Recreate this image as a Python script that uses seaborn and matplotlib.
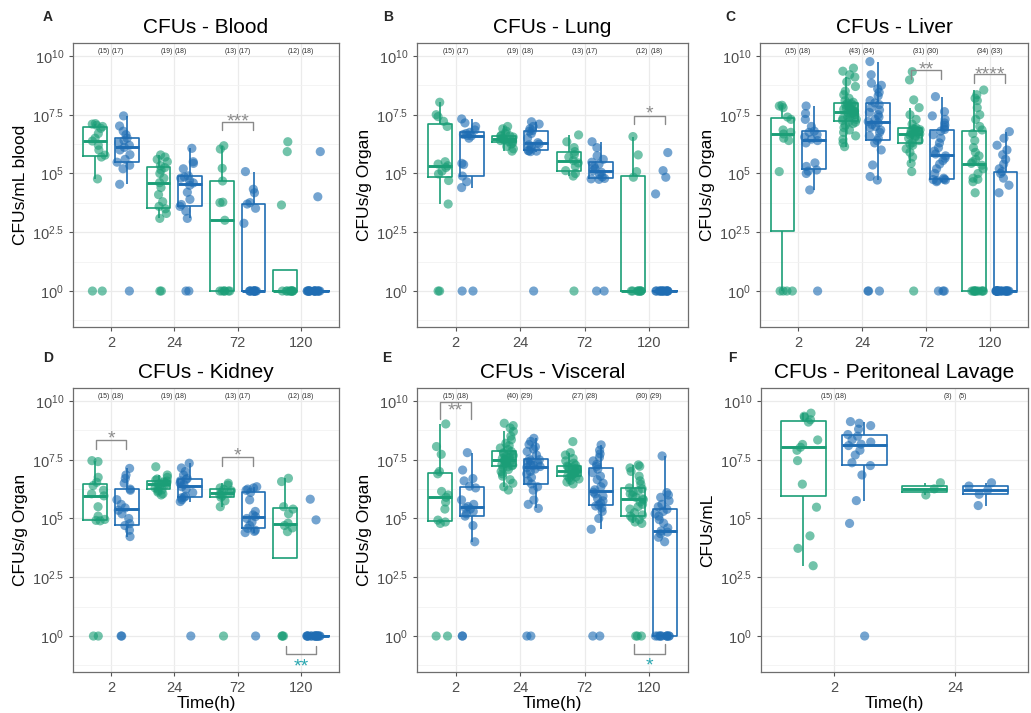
import numpy as np
import pandas as pd
import matplotlib
matplotlib.use("Agg")
import matplotlib.pyplot as plt
import seaborn as sns

# ---------------- data (log10 CFU values) ----------------
times4 = ["2", "24", "72", "120"]
times2 = ["2", "24"]
groups = ["Group 1", "Group 2"]
palette = ["#1b9e77", "#1f6db3"]

blood_g1 = [
    [0, 0, 4.77, 5.7, 5.78, 6.0, 6.2, 6.38, 6.5, 6.7, 6.92, 7.0, 7.05, 7.1, 7.12],
    [0, 0, 3.09, 3.3, 3.5, 3.6, 3.8, 4.1, 4.4, 4.61, 4.8, 5.0, 5.15, 5.25, 5.33, 5.5, 5.6, 5.7, 5.79],
    [0, 0, 0, 0, 0, 0, 3.01, 3.76, 3.78, 4.68, 5.22, 6.04, 6.18],
    [0, 0, 0, 0, 0, 0, 0, 0, 0, 3.66, 5.93, 6.35],
]
blood_g2 = [
    [0, 4.54, 5.2, 5.35, 5.48, 5.6, 5.8, 6.0, 6.11, 6.2, 6.3, 6.4, 6.5, 6.65, 6.8, 7.02, 7.45],
    [0, 0, 3.09, 3.4, 3.6, 3.68, 3.9, 4.2, 4.5, 4.6, 4.7, 4.8, 4.85, 4.9, 5.2, 5.43, 5.5, 6.07],
    [0, 0, 0, 0, 0, 0, 0, 0, 0, 0, 2.88, 3.52, 3.70, 3.76, 4.18, 4.33, 5.08],
    [0, 0, 0, 0, 0, 0, 0, 0, 0, 0, 0, 0, 0, 0, 0, 0, 4.01, 5.93],
]
lung_g1 = [
    [0, 0, 3.70, 4.7, 4.98, 5.1, 5.25, 5.33, 5.4, 5.5, 7.0, 7.22, 7.42, 7.5, 8.03],
    [5.95, 6.05, 6.15, 6.25, 6.3, 6.36, 6.38, 6.4, 6.42, 6.45, 6.5, 6.55, 6.58, 6.6, 6.62, 6.7, 6.8, 6.9, 7.0],
    [0, 4.89, 5.0, 5.12, 5.3, 5.45, 5.55, 5.7, 5.8, 5.93, 6.1, 6.35, 6.64],
    [0, 0, 0, 0, 0, 0, 0, 0, 4.84, 5.08, 5.79, 6.57],
]
lung_g2 = [
    [0, 0, 4.40, 4.65, 4.89, 5.38, 5.43, 6.5, 6.6, 6.62, 6.66, 6.7, 6.75, 6.85, 7.0, 7.15, 7.32],
    [0, 5.93, 5.95, 5.97, 5.97, 6.05, 6.15, 6.22, 6.25, 6.31, 6.5, 6.7, 6.8, 6.83, 6.9, 7.0, 7.1, 7.2],
    [0, 0, 4.75, 4.77, 4.79, 4.85, 4.95, 5.05, 5.12, 5.2, 5.3, 5.4, 5.48, 5.6, 5.75, 6.1, 6.35],
    [0, 0, 0, 0, 0, 0, 0, 0, 0, 0, 0, 0, 0, 0, 4.13, 4.84, 5.12, 5.89],
]
liver_g1 = [
    [0, 0, 0, 0, 5.08, 6.4, 6.5, 6.68, 6.75, 6.85, 7.3, 7.4, 7.8, 7.87, 7.9],
    [6.14, 6.3, 6.45, 6.6, 6.75, 6.85, 6.95, 7.05, 7.12, 7.18, 7.2, 7.26, 7.3, 7.35, 7.4,
     7.45, 7.5, 7.52, 7.55, 7.58, 7.6, 7.63, 7.66, 7.7, 7.73, 7.76, 7.8, 7.84, 7.88, 7.92,
     7.96, 7.99, 8.03, 8.1, 8.2, 8.35, 8.5, 8.7, 8.9, 9.1, 9.2, 9.35, 9.48],
    [0, 5.08, 5.43, 5.7, 5.9, 6.05, 6.2, 6.25, 6.31, 6.4, 6.5, 6.55, 6.6, 6.63, 6.66, 6.68,
     6.72, 6.76, 6.8, 6.83, 6.86, 6.88, 6.9, 6.94, 7.1, 7.3, 7.5, 7.8, 8.13, 8.98, 9.33],
    [0, 0, 0, 0, 0, 0, 0, 0, 0, 0, 4.18, 4.65, 4.75, 4.8, 5.0, 5.2, 5.35, 5.43, 5.5, 5.6,
     5.75, 5.9, 6.1, 6.4, 6.7, 6.85, 7.0, 7.3, 7.5, 7.8, 8.1, 8.2, 8.35, 8.55],
]
liver_g2 = [
    [0, 4.30, 5.0, 5.1, 5.15, 5.3, 5.45, 6.3, 6.4, 6.46, 6.55, 6.65, 6.75, 6.8, 7.0, 7.3, 7.55, 7.87],
    [0, 0, 0, 4.72, 4.87, 5.36, 6.0, 6.3, 6.4, 6.5, 6.6, 6.75, 6.85, 6.95, 7.0, 7.08, 7.15,
     7.21, 7.3, 7.4, 7.5, 7.6, 7.7, 7.8, 7.93, 8.0, 8.1, 8.3, 8.45, 8.6, 8.75, 8.84, 9.2, 9.76],
    [0, 0, 0, 4.65, 4.7, 4.72, 4.74, 4.75, 4.8, 5.0, 5.2, 5.4, 5.55, 5.65, 5.75, 5.83, 5.95,
     6.1, 6.3, 6.5, 6.65, 6.8, 6.87, 6.95, 7.05, 7.15, 7.3, 7.45, 7.63, 8.27],
    [0, 0, 0, 0, 0, 0, 0, 0, 0, 0, 0, 0, 0, 0, 0, 0, 0, 0, 0, 0,
     4.18, 4.5, 4.8, 5.0, 5.08, 5.2, 5.4, 5.6, 5.8, 6.0, 6.2, 6.5, 6.78],
]
kidney_g1 = [
    [0, 0, 4.9, 4.92, 4.96, 5.1, 5.5, 5.96, 6.05, 6.2, 6.4, 6.54, 6.75, 7.42, 7.46],
    [6.0, 6.05, 6.12, 6.18, 6.22, 6.26, 6.3, 6.38, 6.43, 6.47, 6.5, 6.53, 6.56, 6.59, 6.63, 6.68, 6.75, 6.85, 7.2],
    [0, 5.5, 5.75, 5.9, 5.97, 6.02, 6.07, 6.12, 6.18, 6.24, 6.3, 6.42, 6.5],
    [0, 0, 0, 4.44, 4.6, 4.7, 4.8, 5.2, 5.4, 5.5, 6.57, 6.71],
]
kidney_g2 = [
    [0, 0, 4.23, 4.5, 4.7, 4.78, 5.0, 5.2, 5.35, 5.45, 5.6, 5.8, 6.2, 6.25, 6.5, 6.7, 6.85, 7.13],
    [0, 5.72, 5.8, 5.88, 5.9, 5.95, 6.1, 6.25, 6.35, 6.45, 6.5, 6.6, 6.66, 6.7, 6.85, 7.0, 7.15, 7.35],
    [0, 4.40, 4.45, 4.5, 4.58, 4.7, 4.85, 5.0, 5.08, 5.15, 5.3, 5.79, 6.11, 6.2, 6.25, 6.3, 6.35],
    [0, 0, 0, 0, 0, 0, 0, 0, 0, 0, 0, 0, 0, 0, 0, 0, 4.94, 5.82],
]
visceral_g1 = [
    [0, 0, 4.79, 4.85, 4.93, 5.4, 5.7, 5.9, 6.0, 6.15, 6.9, 7.0, 7.73, 8.06, 9.02],
    [6.21, 6.35, 6.5, 6.65, 6.8, 6.9, 7.0, 7.08, 7.15, 7.2, 7.24, 7.27, 7.3, 7.33, 7.36, 7.39,
     7.42, 7.44, 7.46, 7.48, 7.5, 7.53, 7.56, 7.6, 7.64, 7.68, 7.72, 7.76, 7.8, 7.85, 7.93,
     8.0, 8.1, 8.2, 8.35, 8.5, 8.7, 8.85, 8.95, 9.05],
    [6.47, 6.55, 6.62, 6.68, 6.73, 6.77, 6.80, 6.82, 6.86, 6.9, 6.94, 6.98, 7.01, 7.04, 7.07,
     7.1, 7.13, 7.17, 7.2, 7.23, 7.27, 7.35, 7.45, 7.55, 7.7, 7.8, 8.27],
    [0, 0, 0, 4.79, 4.85, 4.95, 5.02, 5.1, 5.15, 5.25, 5.4, 5.5, 5.6, 5.7, 5.8, 5.84, 5.9,
     5.98, 6.05, 6.12, 6.18, 6.26, 6.3, 6.45, 6.6, 6.8, 7.0, 7.15, 7.22, 7.28],
]
visceral_g2 = [
    [0, 0, 4.01, 4.7, 5.1, 5.2, 5.3, 5.4, 5.45, 5.51, 5.6, 5.79, 6.3, 6.37, 6.6, 6.7, 7.06, 7.8],
    [0, 0, 5.43, 5.6, 5.79, 6.2, 6.35, 6.47, 6.6, 6.75, 6.9, 7.0, 7.1, 7.17, 7.21, 7.25, 7.3,
     7.35, 7.4, 7.45, 7.5, 7.53, 7.7, 7.85, 7.95, 8.05, 8.15, 8.28, 8.41],
    [0, 0, 4.54, 5.0, 5.3, 5.45, 5.53, 5.58, 5.65, 5.75, 5.85, 5.95, 6.05, 6.12, 6.22, 6.35,
     6.5, 6.65, 6.8, 6.95, 7.1, 7.22, 7.3, 7.45, 7.6, 7.75, 7.9, 8.13],
    [0, 0, 0, 0, 0, 0, 0, 0, 0, 0, 4.01, 4.2, 4.35, 4.42, 4.47, 4.6, 4.8, 4.95, 5.1, 5.2,
     5.3, 5.39, 5.5, 5.6, 5.75, 5.9, 6.0, 6.1, 7.66],
]
lavage_g1 = [
    [2.99, 3.73, 4.26, 5.48, 6.46, 7.46, 7.9, 8.03, 8.15, 8.34, 9.1, 9.2, 9.3, 9.35, 9.48],
    [6.0, 6.26, 6.52],
]
lavage_g2 = [
    [0, 4.79, 5.76, 6.85, 7.25, 7.37, 7.7, 7.9, 8.1, 8.16, 8.25, 8.35, 8.5, 8.57, 8.8, 8.95, 9.05, 9.12],
    [5.55, 6.03, 6.21, 6.38, 6.52],
]

ytick_vals = [0, 2.5, 5, 7.5, 10]
ytick_labels = [r"$\mathregular{10^{0}}$", r"$\mathregular{10^{2.5}}$", r"$\mathregular{10^{5}}$",
                r"$\mathregular{10^{7.5}}$", r"$\mathregular{10^{10}}$"]

# ---------------- style ----------------
sns.set_theme(style="white")
plt.rcParams["font.family"] = ["Liberation Sans", "DejaVu Sans"]
plt.rcParams["mathtext.fontset"] = "custom"
plt.rcParams["mathtext.rm"] = "Liberation Sans"
plt.rcParams["mathtext.it"] = "Liberation Sans:italic"
plt.rcParams["mathtext.bf"] = "Liberation Sans:bold"

W, H = 1031, 713
fig = plt.figure(figsize=(W / 100, H / 100), dpi=100)
np.random.seed(7)

# panel layout in pixels: (left, top, right, bottom), letter position
panels = [
    dict(letter="A", title="CFUs - Blood", ylabel="CFUs/mL blood", cats=times4,
         g1=blood_g1, g2=blood_g2, box=(73, 43, 339, 327), lpos=(48, 17), xlabel=""),
    dict(letter="B", title="CFUs - Lung", ylabel="CFUs/g Organ", cats=times4,
         g1=lung_g1, g2=lung_g2, box=(417, 43, 688, 327), lpos=(388, 17), xlabel=""),
    dict(letter="C", title="CFUs - Liver", ylabel="CFUs/g Organ", cats=times4,
         g1=liver_g1, g2=liver_g2, box=(760, 43, 1028, 327), lpos=(730, 17), xlabel=""),
    dict(letter="D", title="CFUs - Kidney", ylabel="CFUs/g Organ", cats=times4,
         g1=kidney_g1, g2=kidney_g2, box=(73, 388, 339, 672), lpos=(48, 358), xlabel="Time(h)"),
    dict(letter="E", title="CFUs - Visceral", ylabel="CFUs/g Organ", cats=times4,
         g1=visceral_g1, g2=visceral_g2, box=(417, 388, 688, 672), lpos=(387, 358), xlabel="Time(h)"),
    dict(letter="F", title="CFUs - Peritoneal Lavage", ylabel="CFUs/mL", cats=times2,
         g1=lavage_g1, g2=lavage_g2, box=(761, 388, 1028, 672), lpos=(732, 358), xlabel="Time(h)"),
]

# significance brackets: (panel index, category index, bracket y, leg y, label, text y, colour)
sig = [
    (0, 2, 7.19, 6.85, "***", 7.00, "#8c8c8c"),
    (1, 3, 7.45, 7.10, "*", 7.34, "#8c8c8c"),
    (2, 2, 9.40, 9.02, "**", 9.21, "#8c8c8c"),
    (2, 3, 9.23, 8.85, "****", 9.00, "#8c8c8c"),
    (3, 0, 8.34, 7.96, "*", 8.20, "#8c8c8c"),
    (3, 2, 7.62, 7.23, "*", 7.46, "#8c8c8c"),
    (3, 3, -0.77, -0.43, "**", -1.50, "#2aa7b0"),
    (4, 0, 9.96, 9.23, "**", 9.38, "#8c8c8c"),
    (4, 3, -0.77, -0.34, "*", -1.47, "#2aa7b0"),
]

axes = []
for p in panels:
    l, t, r, b = p["box"]
    ax = fig.add_axes([l / W, 1 - b / H, (r - l) / W, (b - t) / H])
    axes.append(ax)
    rows = []
    for c, a, bb in zip(p["cats"], p["g1"], p["g2"]):
        rows += [(c, groups[0], v) for v in a]
        rows += [(c, groups[1], v) for v in bb]
    df = pd.DataFrame(rows, columns=["time", "group", "log_cfu"])

    sns.boxplot(data=df, x="time", y="log_cfu", hue="group", order=p["cats"],
                hue_order=groups, palette=palette, fill=False, width=1.0, gap=0.26,
                showfliers=False, linewidth=1.2, legend=False, ax=ax,
                capprops={"linewidth": 0}, medianprops={"linewidth": 2.1})
    sns.stripplot(data=df, x="time", y="log_cfu", hue="group", order=p["cats"],
                  hue_order=groups, palette=palette, dodge=True, jitter=0.22,
                  size=6.6, alpha=0.62, linewidth=0, legend=False, ax=ax, zorder=3)

    n = len(p["cats"])
    ax.set_xlim(-0.6, n - 1 + 0.6)
    ax.set_ylim(-1.53, 10.55)
    ax.set_yticks(ytick_vals)
    ax.set_yticklabels(ytick_labels)
    ax.set_yticks([-1.25, 1.25, 3.75, 6.25, 8.75], minor=True)
    ax.set_axisbelow(True)
    ax.grid(which="major", color="#ebebeb", linewidth=0.9)
    ax.grid(which="minor", axis="y", color="#f2f2f2", linewidth=0.6)
    ax.tick_params(axis="both", which="major", labelsize=10.5, labelcolor="#4d4d4d",
                   color="#555555", length=3, width=0.8, direction="out",
                   bottom=True, left=True)
    ax.tick_params(which="minor", length=0)
    for s in ax.spines.values():
        s.set_color("#6e6e6e")
        s.set_linewidth(0.9)
    ax.set_title(p["title"], fontsize=15, pad=7, color="black")
    ax.set_ylabel(p["ylabel"], fontsize=12.5, color="black", labelpad=3)
    ax.set_xlabel(p["xlabel"], fontsize=12.5, color="black", labelpad=1)

    off = 0.11 if n == 4 else 0.06
    for i in range(n):
        ax.text(i - off, 10.18, f"({len(p['g1'][i])})", fontsize=5, ha="center",
                va="center", color="#333333")
        ax.text(i + off, 10.18, f"({len(p['g2'][i])})", fontsize=5, ha="center",
                va="center", color="#333333")

    lx, ly = p["lpos"]
    fig.text(lx / W, 1 - ly / H, p["letter"], fontsize=10, fontweight="bold",
             ha="center", va="center")

for pi, ci, ytop, yleg, lab, ty, col in sig:
    ax = axes[pi]
    ax.plot([ci - 0.24, ci - 0.24, ci + 0.24, ci + 0.24], [yleg, ytop, ytop, yleg],
            color="#8a8a8a", linewidth=1.0, zorder=4, clip_on=False)
    ax.text(ci, ty, lab, fontsize=14, ha="center", va="baseline", color=col, zorder=5)

fig.savefig("out.png", dpi=100, facecolor="white")
